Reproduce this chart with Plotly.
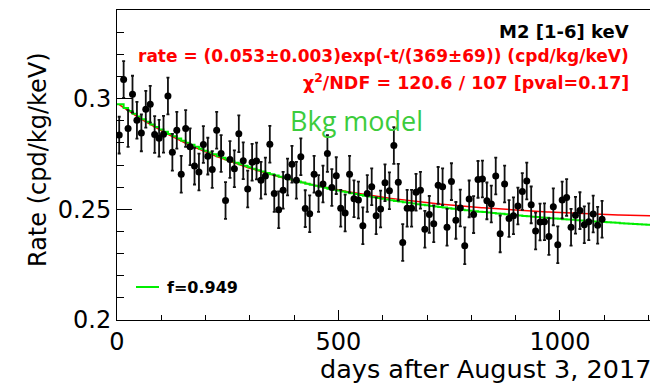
import numpy as np
import plotly.graph_objects as go

# ---------------- data ----------------
days = [5, 15, 25, 35, 45, 55, 65, 75, 85, 95,
        105, 115, 125, 135, 145, 155, 165, 175, 185, 195,
        205, 215, 225, 235, 245, 255, 265, 275, 285, 295,
        305, 315, 325, 335, 345, 355, 365, 375, 385, 395,
        405, 415, 425, 435, 445, 455, 465, 475, 485, 495,
        505, 515, 525, 535, 545, 555, 565, 575, 585, 595,
        605, 615, 625, 635, 645, 655, 665, 675, 685, 695,
        705, 715, 725, 735, 745, 755, 765, 775, 785, 795,
        805, 815, 825, 835, 845, 855, 865, 875, 885, 895,
        905, 915, 925, 935, 945, 955, 965, 975, 985, 995,
        1005, 1015, 1025, 1035, 1045, 1055, 1065, 1075, 1085, 1095]

rate = [0.2835, 0.3086, 0.2865, 0.3020, 0.2902, 0.2845, 0.2952, 0.2974, 0.2838, 0.2821,
        0.2839, 0.3012, 0.2758, 0.2857, 0.2658, 0.2865, 0.2782, 0.2695, 0.2668, 0.2793,
        0.2740, 0.2680, 0.2857, 0.2752, 0.2540, 0.2725, 0.2683,
        0.2841, 0.2719, 0.2592, 0.2712, 0.2718, 0.2631, 0.2650, 0.2794, 0.2571, 0.2498,
        0.2586, 0.2646, 0.2703, 0.2631, 0.2737, 0.2503, 0.2480, 0.2658, 0.2571, 0.2614,
        0.2752, 0.2598, 0.2652, 0.2505, 0.2483, 0.2658, 0.2548, 0.2542,
        0.2426, 0.2571, 0.2602, 0.2471, 0.2501, 0.2620, 0.2584, 0.2788, 0.2622, 0.2350,
        0.2505, 0.2505, 0.2577, 0.2586, 0.2410, 0.2477, 0.2435, 0.2608, 0.2602, 0.2419,
        0.2625, 0.2450, 0.2506, 0.2335, 0.2547, 0.2476, 0.2635,
        0.2637, 0.2538, 0.2524, 0.2650, 0.2389, 0.2614, 0.2458, 0.2471, 0.2515, 0.2580,
        0.2628, 0.2520, 0.2402, 0.2443, 0.2444, 0.2377, 0.2511, 0.2340, 0.2542, 0.2553,
        0.2419, 0.2473, 0.2494, 0.2430, 0.2444, 0.2479, 0.2428, 0.2455]

rate_err = 0.0083

# fit: rate = A exp(-t/tau) + C
A_FIT, TAU_FIT, C_FIT = 0.053, 369.0, 0.245
# background model (stepped, 10-day bins)
A_BKG, TAU_BKG, B_BKG, TAU_LONG = 0.0495, 369.0, 0.249, 37200.0

X_MAX = 1210
Y_MIN, Y_MAX = 0.2, 0.34

x_tickvals = [0, 500, 1000]
y_tickvals = [0.2, 0.25, 0.3]
y_ticktext = ["0.2", "0.25", "0.3"]

# ---------------- curves ----------------
t_fit = np.linspace(days[0], X_MAX, 400)
fit_curve = A_FIT * np.exp(-t_fit / TAU_FIT) + C_FIT

edges = np.concatenate([[0.0], np.arange(15, X_MAX, 10.0)])
centers = np.concatenate([[7.5], edges[1:] + 5.0])
bkg_vals = A_BKG * np.exp(-centers / TAU_BKG) + B_BKG * np.exp(-centers / TAU_LONG)
bkg_x = np.concatenate([edges, [X_MAX]])
bkg_y = np.concatenate([bkg_vals, [bkg_vals[-1]]])

FONT = "DejaVu Sans"

fig = go.Figure()
fig.add_trace(go.Scatter(x=t_fit, y=fit_curve, mode="lines",
                         line=dict(color="#ff0000", width=1.5), hoverinfo="skip"))
fig.add_trace(go.Scatter(x=bkg_x, y=bkg_y, mode="lines",
                         line=dict(color="#00ee00", width=2, shape="hv"), hoverinfo="skip"))
fig.add_trace(go.Scatter(x=days, y=rate, mode="markers",
                         marker=dict(color="black", size=7),
                         error_y=dict(type="constant", value=rate_err, color="#111111",
                                      thickness=1.8, width=1.5)))

# page body has an 8px margin: figure is drawn at (8, 8) in the window
OFF = 8
W, H = 658 - OFF, 385 - OFF
L, R, T, B = 117 - OFF, 5, 10 - OFF, 65
pw, ph = W - L - R, H - T - B


def px(xs):  # window x pixel -> paper
    return (xs - OFF - L) / pw


def py(ys):  # window y pixel -> paper
    return (H - B - (ys - OFF)) / ph


fig.update_layout(
    width=W, height=H,
    margin=dict(l=L, r=R, t=T, b=B, autoexpand=False),
    plot_bgcolor="white", paper_bgcolor="white",
    showlegend=False,
    xaxis=dict(range=[0, X_MAX], showline=True, linecolor="black", linewidth=1, mirror=True,
               ticks="inside", ticklen=10, tickwidth=1, tickcolor="black",
               tickvals=x_tickvals, showgrid=False, zeroline=False,
               minor=dict(dtick=100, tick0=0, ticks="inside", ticklen=5, tickcolor="black", showgrid=False),
               tickfont=dict(family=FONT, size=24, color="black")),
    yaxis=dict(range=[Y_MIN, Y_MAX], showline=True, linecolor="black", linewidth=1, mirror=True,
               ticks="inside", ticklen=15, tickwidth=1, tickcolor="black",
               tickvals=y_tickvals, ticktext=y_ticktext, showgrid=False, zeroline=False,
               minor=dict(dtick=0.01, tick0=0.2, ticks="inside", ticklen=7, tickcolor="black", showgrid=False),
               tickfont=dict(family=FONT, size=24, color="black")),
)

ann = [
    dict(text="<b>M2 [1-6] keV</b>", x=px(631), y=py(32), xanchor="right", yanchor="middle",
         font=dict(family=FONT, size=18, color="black")),
    dict(text="<b>rate = (0.053\u00b10.003)exp(-t/(369\u00b169)) (cpd/kg/keV)</b>", x=px(631), y=py(56),
         xanchor="right", yanchor="middle", font=dict(family=FONT, size=17, color="#ff0000")),
    dict(text="<b>\u03c7<sup>2</sup>/NDF = 120.6 / 107 [pval=0.17]</b>", x=px(631), y=py(82),
         xanchor="right", yanchor="middle", font=dict(family=FONT, size=17.5, color="#ff0000")),
    dict(text="Bkg model", x=px(288), y=py(121), xanchor="left", yanchor="middle",
         font=dict(family="Open Sans", size=27, color="#3ccc3c")),
    dict(text="<b>f=0.949</b>", x=px(165), y=py(287), xanchor="left", yanchor="middle",
         font=dict(family=FONT, size=16, color="black")),
    dict(text="days after August 3, 2017", x=px(653), y=py(369), xanchor="right", yanchor="middle",
         font=dict(family=FONT, size=25.5, color="black")),
    dict(text="Rate (cpd/kg/keV)", x=px(38), y=py(160), xanchor="center", yanchor="middle",
         textangle=-90, font=dict(family=FONT, size=24, color="black")),
]
for a in ann:
    a.update(xref="paper", yref="paper", showarrow=False)
fig.update_layout(annotations=ann)

fig.add_shape(type="line", xref="paper", yref="paper", x0=px(136), x1=px(159), y0=py(287), y1=py(287),
              line=dict(color="#00ee00", width=2))

fig.write_html("out.html")
